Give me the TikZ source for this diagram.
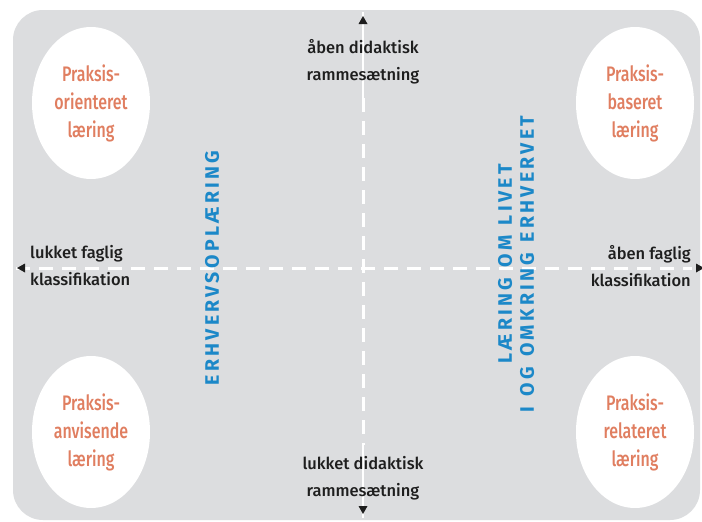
\documentclass[tikz,border=0pt]{standalone}
\usepackage{fontspec}
\setmainfont{Fira Sans Medium}
\newfontfamily\ellfont[FakeStretch=0.76]{Fira Sans Medium}
\newfontfamily\bluefont[LetterSpace=17,WordSpace=1.3]{Fira Sans Bold}
\definecolor{boxgray}{RGB}{220,221,223}
\definecolor{salmon}{RGB}{224,126,96}
\definecolor{axisblue}{RGB}{28,136,200}
\definecolor{ink}{RGB}{30,30,30}
\tikzset{
  ell/.style={ellipse, fill=white, minimum width=118pt, minimum height=152pt, inner sep=0pt},
  elltext/.style={font=\ellfont\fontsize{21}{28}\selectfont, text=salmon, align=center},
  lbl/.style={font=\fontsize{16.5}{27}\selectfont, text=ink, align=center, inner sep=0pt},
  bluetxt/.style={font=\bluefont\fontsize{19.5}{22}\selectfont, text=axisblue, align=center, rotate=90, inner sep=0pt},
  axisdash/.style={white, line width=3pt, dash pattern=on 14pt off 9pt},
  axisthin/.style={white, line width=1.5pt},
  tri/.style={fill=ink}
}
\usetikzlibrary{shapes.geometric}
\begin{document}
\begin{tikzpicture}[x=1pt,y=-1pt]
\useasboundingbox (0,0) rectangle (702,522);
\fill[white] (0,0) rectangle (702,522);
\fill[boxgray, rounded corners=30pt] (13,10) rectangle (700,520);
% axes
\coordinate (vt) at (363,12);
\coordinate (vtd) at (363,98);
\coordinate (vbd) at (363,445);
\coordinate (vb) at (363,518);
\coordinate (hl) at (16,268);
\coordinate (hr) at (692,268);
\draw[axisthin] (vt) -- (vtd);
\draw[axisthin] (vbd) -- (vb);
\draw[axisdash] (vtd) -- (vbd);
\draw[axisdash] (hl) -- (hr);
% arrow tips
\fill[tri] (363,16) -- (367.5,24) -- (358.5,24) -- cycle;
\fill[tri] (363,514) -- (367.5,506) -- (358.5,506) -- cycle;
\fill[tri] (17,268) -- (25,263.5) -- (25,272.5) -- cycle;
\fill[tri] (704,268) -- (696,263.5) -- (696,272.5) -- cycle;
% ellipses
\node[ell] (tl) at (91,103) {};
\node[ell] (tr) at (635,103) {};
\node[ell] (bl) at (91,432) {};
\node[ell] (br) at (635,432) {};
\node[elltext] at (tl.center) {Praksis-\\orienteret\\læring};
\node[elltext] at (tr.center) {Praksis-\\baseret\\læring};
\node[elltext] at (bl.center) {Praksis-\\anvisende\\læring};
\node[elltext] at (br.center) {Praksis-\\relateret\\læring};
% axis labels
\node[lbl] (top) at (363,62) {åben didaktisk\\rammesætning};
\node[lbl] (bot) at (363,478) {lukket didaktisk\\rammesætning};
\node[lbl, anchor=west, align=left] (lft) at (30,266) {lukket faglig\\klassifikation};
\node[lbl, anchor=east, align=right] (rgt) at (691,266) {åben faglig\\klassifikation};
% blue
\node[bluetxt] (erh) at (212,268) {ERHVERVSOPLÆRING};
\node[bluetxt] (liv) at (516,264) {LÆRING OM LIVET\\I OG OMKRING ERHVERVET};
\end{tikzpicture}
\end{document}
